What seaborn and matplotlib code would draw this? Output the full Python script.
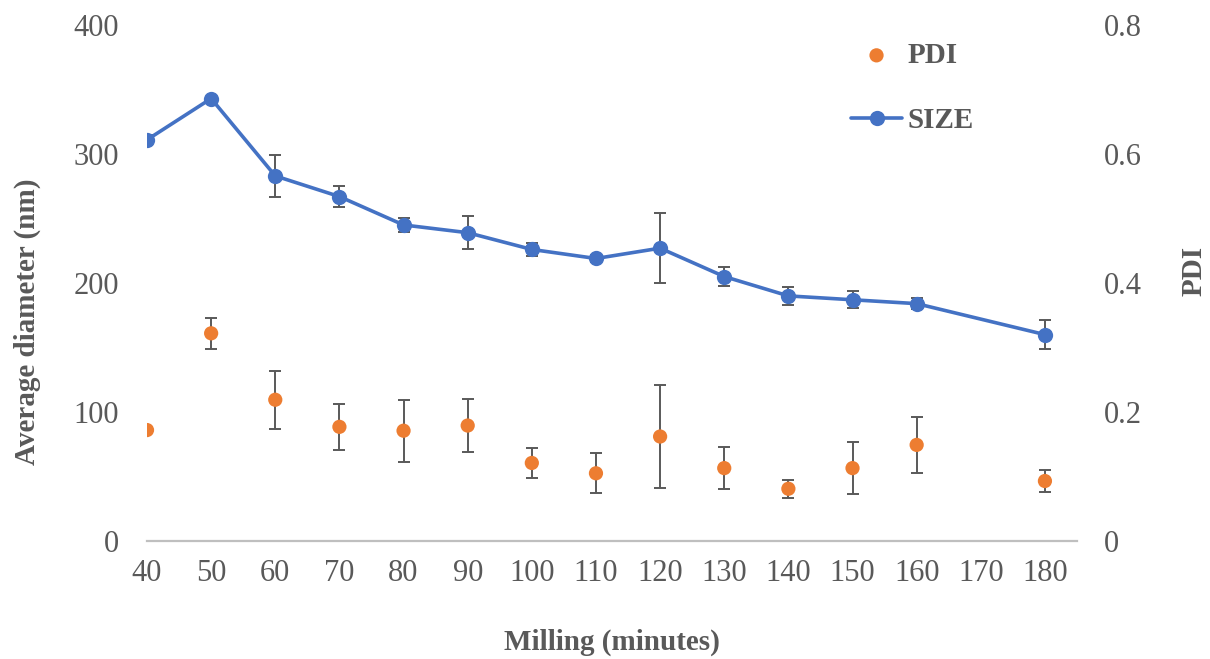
import matplotlib
matplotlib.use("Agg")
import matplotlib.pyplot as plt
import seaborn as sns

# Data
minutes = [40, 50, 60, 70, 80, 90, 100, 110, 120, 130, 140, 150, 160, 180]
size_nm = [311, 343, 283, 267, 245, 239, 226, 219, 227, 205, 190, 187, 184, 160]
size_err = [4, 0, 16, 8, 5.7, 12.7, 4.7, 2.5, 27.2, 7.1, 7.1, 6.7, 4.5, 11]
pdi = [0.172, 0.322, 0.219, 0.177, 0.171, 0.179, 0.121, 0.105, 0.162,
       0.113, 0.081, 0.113, 0.149, 0.093]
pdi_err = [0, 0.024, 0.045, 0.036, 0.048, 0.041, 0.023, 0.031, 0.080,
           0.033, 0.014, 0.040, 0.044, 0.017]
x_ticks = [40, 50, 60, 70, 80, 90, 100, 110, 120, 130, 140, 150, 160, 170, 180]
left_ticks = [0, 100, 200, 300, 400]
right_ticks = [0, 0.2, 0.4, 0.6, 0.8]

BLUE = "#4472C4"
ORANGE = "#ED7D31"
GREY = "#595959"

sns.set_theme(style="white")
plt.rcParams["font.family"] = ["Liberation Serif", "DejaVu Serif"]

W, H = 1210, 659
fig = plt.figure(figsize=(W / 100, H / 100), dpi=100)
ax = fig.add_axes([147 / W, 1 - 541 / H, (1077 - 147) / W, (541 - 25) / H])
ax2 = ax.twinx()

# SIZE series on left axis
ax.errorbar(minutes, size_nm, yerr=size_err, fmt="none", ecolor=GREY,
            elinewidth=1.4, capsize=4.3, capthick=1.4, zorder=2)
sns.lineplot(x=minutes, y=size_nm, color=BLUE, linewidth=2.6, marker="o",
             markersize=11, markeredgewidth=0, ax=ax, zorder=3)

# PDI series on right axis
ax2.errorbar(minutes, pdi, yerr=pdi_err, fmt="none", ecolor=GREY,
             elinewidth=1.4, capsize=4.3, capthick=1.4, zorder=2)
sns.scatterplot(x=minutes, y=pdi, color=ORANGE, s=105, edgecolor="none",
                ax=ax2, zorder=3)

# Axes formatting
ax.set_xlim(40, 185)
ax.set_ylim(0, 400)
ax2.set_ylim(0, 0.8)
ax.set_xticks(x_ticks)
ax.set_yticks(left_ticks)
ax2.set_yticks(right_ticks)
ax2.set_yticklabels(["0", "0.2", "0.4", "0.6", "0.8"])

for a in (ax, ax2):
    for s in a.spines.values():
        s.set_visible(False)
    a.tick_params(length=0, labelsize=22, labelcolor=GREY)
    a.set_xlabel("")
    a.set_ylabel("")
ax.spines["bottom"].set_visible(True)
ax.spines["bottom"].set_color("#BFBFBF")
ax.spines["bottom"].set_linewidth(1.6)
ax.tick_params(axis="x", pad=13)
ax.tick_params(axis="y", pad=20)
ax2.tick_params(axis="y", pad=19)

lab = dict(fontsize=21, fontweight="bold", color=GREY)
fig.text(612 / W, 1 - 642 / H, "Milling (minutes)", ha="center", va="center", **lab)
fig.text(27 / W, 1 - 322 / H, "Average diameter (nm)", ha="center", va="center",
         rotation=90, **lab)
fig.text(1194 / W, 1 - 271 / H, "PDI", ha="center", va="center", rotation=90, **lab)

# Legend
handles = [ax2.collections[-1], ax.lines[-1]]
fig.legend(handles, ["PDI", "SIZE"], loc="upper left",
           bbox_to_anchor=(851 / W, 1 - 42 / H), frameon=False,
           borderpad=0, borderaxespad=0,
           prop={"size": 21, "weight": "bold"}, labelcolor=GREY,
           labelspacing=1.3, handlelength=1.75, handletextpad=0.2)

fig.savefig("out.png", dpi=100)
